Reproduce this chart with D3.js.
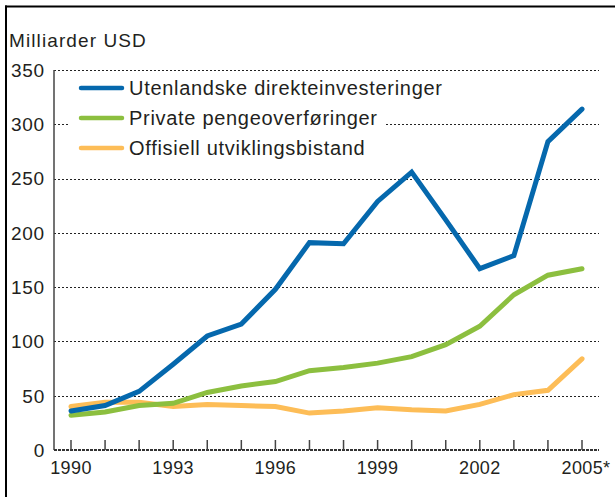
<!DOCTYPE html>
<html>
<head>
<meta charset="utf-8">
<script src="https://cdn.jsdelivr.net/npm/d3@7"></script>
<style>
    body { margin: 0; background: #fff; }
    svg { display: block; font-family: "Liberation Sans", Arial, sans-serif; }
</style>
</head>
<body>
<svg id="chart" width="615" height="497"></svg>
<script>
// data
const years = d3.range(1990, 2006);
const yearLabels = ['1990', '1993', '1996', '1999', '2002', '2005*'];
const yTicks = [0, 50, 100, 150, 200, 250, 300, 350];

const seriesNames = [
    'Utenlandske direkteinvesteringer',
    'Private pengeoverføringer',
    'Offisiell utviklingsbistand'
];
const fdi = [36, 41, 54, 79, 105, 116, 148, 191, 190, 229, 256, 212, 167, 179, 284, 314];
const remittances = [32, 35, 41, 43, 53, 59, 63, 73, 76, 80, 86, 97, 114, 143, 161, 167];
const oda = [40, 44, 44, 40, 42, 41, 40, 34, 36, 39, 37, 36, 42, 51, 55, 84];
const colors = ['#0568ad', '#8cbf3f', '#fdbd57'];

const svg = d3.select('#chart');

const x = d3.scaleLinear().domain([1990, 2005]).range([71, 582]);
const y = d3.scaleLinear().domain([0, 350]).range([450, 70]);

//frame on top and left
svg.append('line')
    .attr('x1', 5).attr('x2', 615).attr('y1', 6.5).attr('y2', 6.5)
    .attr('stroke', '#000').attr('stroke-width', 2);
svg.append('line')
    .attr('x1', 6).attr('x2', 6).attr('y1', 5.5).attr('y2', 497)
    .attr('stroke', '#000').attr('stroke-width', 2);

svg.append('text')
    .attr('x', 9).attr('y', 47)
    .attr('font-size', 19)
    .attr('letter-spacing', 1.1)
    .attr('fill', '#231f20')
    .text('Milliarder USD');

//grid lines
svg.append('g')
    .selectAll('line')
    .data(yTicks.filter(d => d > 0))
    .join('line')
    .attr('x1', 54).attr('x2', 599)
    .attr('y1', d => Math.round(y(d)) + 0.5)
    .attr('y2', d => Math.round(y(d)) + 0.5)
    .attr('stroke', '#222')
    .attr('stroke-width', 1)
    .attr('stroke-dasharray', '2,2');

//y labels
svg.append('g')
    .selectAll('text')
    .data(yTicks)
    .join('text')
    .attr('x', 45)
    .attr('y', d => y(d))
    .attr('dy', '0.36em')
    .attr('text-anchor', 'end')
    .attr('font-size', 19)
    .attr('letter-spacing', 0.8)
    .attr('fill', '#231f20')
    .text(d => d);

//legend with white box behind
const legend = svg.append('g');
legend.append('rect')
    .attr('x', 70).attr('y', 76).attr('width', 315).attr('height', 88)
    .attr('fill', '#fff');
seriesNames.forEach((name, i) => {
    const ly = 88 + i * 30;
    legend.append('line')
        .attr('x1', 81).attr('x2', 122).attr('y1', ly).attr('y2', ly)
        .attr('stroke', colors[i])
        .attr('stroke-width', 4.5)
        .attr('stroke-linecap', 'round');
    legend.append('text')
        .attr('x', 129).attr('y', ly)
        .attr('dy', '0.36em')
        .attr('font-size', 20)
        .attr('letter-spacing', 0.7)
        .attr('fill', '#231f20')
        .text(name);
});

//axes
svg.append('line')
    .attr('x1', 54).attr('x2', 54).attr('y1', 70).attr('y2', 450)
    .attr('stroke', '#444').attr('stroke-width', 1.5);
svg.append('line')
    .attr('x1', 54).attr('x2', 599).attr('y1', 450).attr('y2', 450)
    .attr('stroke', '#333').attr('stroke-width', 2)
    .attr('stroke-dasharray', '3,1');
svg.append('g')
    .selectAll('line')
    .data(years)
    .join('line')
    .attr('x1', d => x(d)).attr('x2', d => x(d))
    .attr('y1', 440).attr('y2', 450)
    .attr('stroke', '#444').attr('stroke-width', 1.5);

svg.append('g')
    .selectAll('text')
    .data(yearLabels)
    .join('text')
    .attr('x', d => x(parseInt(d)))
    .attr('y', 474)
    .attr('dx', d => d.endsWith('*') ? 4 : 0)
    .attr('text-anchor', 'middle')
    .attr('font-size', 18)
    .attr('letter-spacing', 0.4)
    .attr('fill', '#231f20')
    .text(d => d);

//lines, drawn back to front
const line = d3.line()
    .x((d, i) => x(years[i]))
    .y(d => y(d));

[oda, remittances, fdi].forEach((values, k) => {
    svg.append('path')
        .datum(values)
        .attr('d', line)
        .attr('fill', 'none')
        .attr('stroke', colors[2 - k])
        .attr('stroke-width', 5)
        .attr('stroke-linejoin', 'miter')
        .attr('stroke-linecap', 'round');
});
</script>
</body>
</html>
